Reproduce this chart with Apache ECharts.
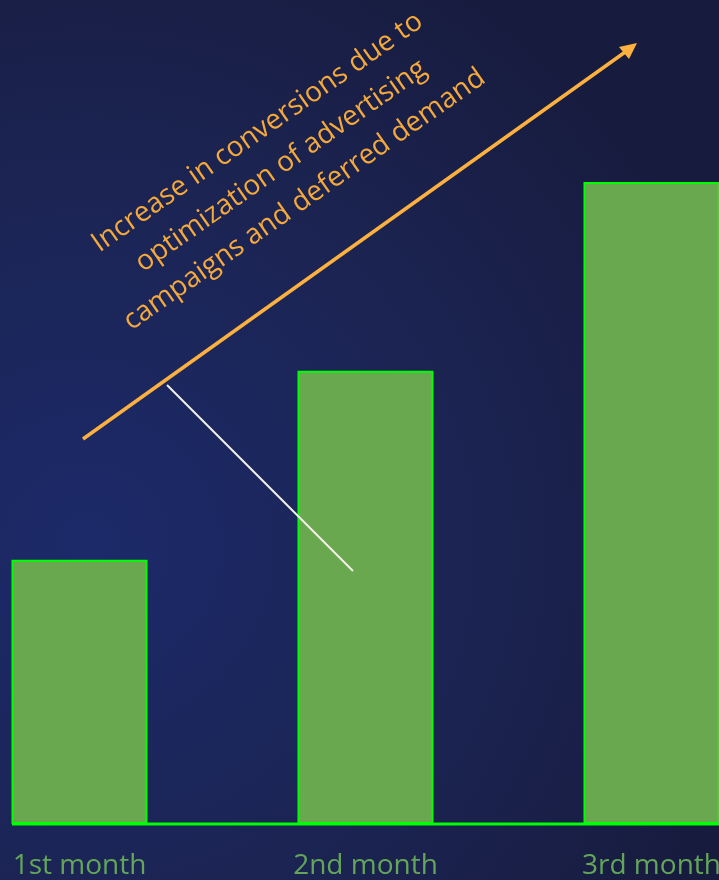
<!DOCTYPE html>
<html>
<head>
<meta charset="utf-8">
<script src="https://cdn.jsdelivr.net/npm/echarts@6/dist/echarts.min.js"></script>
<style>
  html, body { margin: 0; padding: 0; }
  #chart { width: 719px; height: 880px; }
</style>
</head>
<body>
<div id="chart"></div>
<script>
// data
var months = ['1st month', '2nd month', '3rd month']
var monthPos = [1, 2, 3]
var conversions = [28, 48, 68]
var note = 'Increase in conversions due to\noptimization of advertising\ncampaigns and deferred demand'

var chart = echarts.init(document.getElementById('chart'))

var barData = []
for (var i = 0; i < months.length; i++) {
  barData.push([monthPos[i], conversions[i]])
}

var option = {
  backgroundColor: {
    type: 'radial', x: 0.12, y: 0.62, r: 0.95,
    colorStops: [
      { offset: 0, color: '#1c2a6a' },
      { offset: 0.6, color: '#1b2350' },
      { offset: 1, color: '#171b3e' }
    ]
  },
  grid: { left: 0, right: 0, top: 182, bottom: 56, outerBoundsMode: 'none' },
  xAxis: {
    type: 'value',
    min: 0.7221,   // puts the 3 bars where the picture has them
    max: 3.2361,
    axisLine: { show: false },
    axisTick: { show: false },
    splitLine: { show: false },
    axisLabel: {
      customValues: monthPos,
      formatter: function (v) { return months[Math.round(v) - 1] },
      color: '#63a65a',
      fontFamily: 'Open Sans',
      fontSize: 28,
      margin: 28
    }
  },
  yAxis: {
    type: 'value',
    min: 0,
    max: 68,
    show: false,
    splitLine: { show: false }
  },
  series: [
    {
      type: 'bar',
      data: barData,
      barWidth: 136,
      itemStyle: {
        color: '#6aa84f',
        borderColor: '#00ff00',
        borderWidth: 2
      },
      z: 2
    }
  ],
  graphic: [
    // baseline
    { type: 'line', shape: { x1: 12, y1: 824, x2: 719, y2: 824 },
      style: { stroke: '#00ff00', lineWidth: 3 }, z: 10 },
    // orange arrow
    { type: 'line', shape: { x1: 83, y1: 439, x2: 628, y2: 50 },
      style: { stroke: '#ffb13f', lineWidth: 3.5 }, z: 10 },
    { type: 'polygon', shape: { points: [[637, 43], [619, 47], [629, 59]] },
      style: { fill: '#ffb13f' }, z: 10 },
    // white pointer line
    { type: 'line', shape: { x1: 167, y1: 385, x2: 353, y2: 571 },
      style: { stroke: '#f2f2ea', lineWidth: 2 }, z: 10 },
    // annotation
    { type: 'text', x: 281, y: 166, rotation: 35 * Math.PI / 180, z: 10,
      style: {
        text: note,
        fill: '#f5a93a',
        font: '28px "Open Sans"',
        lineHeight: 41,
        align: 'center',
        verticalAlign: 'middle'
      }
    }
  ]
}

chart.setOption(option)
</script>
</body>
</html>
